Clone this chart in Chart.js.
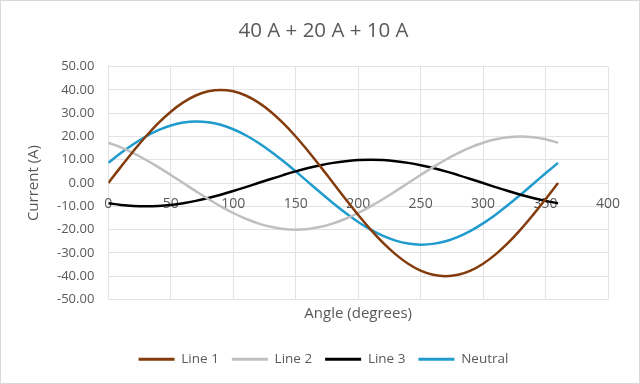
<!DOCTYPE html>
<html>
<head>
<meta charset="utf-8">
<script src="https://cdn.jsdelivr.net/npm/chart.js@4/dist/chart.umd.min.js"></script>
<style>
  html, body { margin: 0; padding: 0; background: #ffffff; }
  #c { display: block; }
</style>
</head>
<body>
<canvas id="c" width="640" height="384"></canvas>
<script>
// ---- Data ----
const chartTitle = "40 A + 20 A + 10 A";
const xAxisTitle = "Angle (degrees)";
const yAxisTitle = "Current (A)";
const seriesNames = ["Line 1", "Line 2", "Line 3", "Neutral"];

const angles = [0,10,20,30,40,50,60,70,80,90,100,110,120,130,140,150,160,170,180,
                190,200,210,220,230,240,250,260,270,280,290,300,310,320,330,340,350,360];

const line1 = [0.00,6.95,13.68,20.00,25.71,30.64,34.64,37.59,39.39,40.00,39.39,37.59,34.64,30.64,25.71,20.00,13.68,6.95,0.00,
               -6.95,-13.68,-20.00,-25.71,-30.64,-34.64,-37.59,-39.39,-40.00,-39.39,-37.59,-34.64,-30.64,-25.71,-20.00,-13.68,-6.95,0.00];

const line2 = [17.32,15.32,12.86,10.00,6.84,3.47,0.00,-3.47,-6.84,-10.00,-12.86,-15.32,-17.32,-18.79,-19.70,-20.00,-19.70,-18.79,-17.32,
               -15.32,-12.86,-10.00,-6.84,-3.47,0.00,3.47,6.84,10.00,12.86,15.32,17.32,18.79,19.70,20.00,19.70,18.79,17.32];

const line3 = [-8.66,-9.40,-9.85,-10.00,-9.85,-9.40,-8.66,-7.66,-6.43,-5.00,-3.42,-1.74,0.00,1.74,3.42,5.00,6.43,7.66,8.66,
               9.40,9.85,10.00,9.85,9.40,8.66,7.66,6.43,5.00,3.42,1.74,0.00,-1.74,-3.42,-5.00,-6.43,-7.66,-8.66];

const neutral = [8.66,12.87,16.69,20.00,22.70,24.71,25.98,26.46,26.12,25.00,23.11,20.53,17.32,13.59,9.43,5.00,0.41,-4.18,-8.66,
                 -12.87,-16.69,-20.00,-22.70,-24.71,-25.98,-26.46,-26.12,-25.00,-23.11,-20.53,-17.32,-13.59,-9.43,-5.00,-0.41,4.18,8.66];

const xTicks = [0, 50, 100, 150, 200, 250, 300, 350, 400];
const yTicks = [-50, -40, -30, -20, -10, 0, 10, 20, 30, 40, 50];

// ---- Styles ----
const colors = ["#843C0C", "#BFBFBF", "#000000", "#1F9BCE"];
const textColor = "#595959";
const gridColor = "#E3E3E3";
const FONT = "'Open Sans', 'Liberation Sans', sans-serif";

const allSeries = [line1, line2, line3, neutral];
const datasets = allSeries.map((vals, i) => ({
  label: seriesNames[i],
  data: angles.map((a, k) => ({ x: a, y: vals[k] })),
  borderColor: colors[i],
  backgroundColor: colors[i],
  borderWidth: 2.5,
  pointRadius: 0,
  pointHoverRadius: 0,
  tension: 0.4,
  fill: false
}));

const framePlugin = {
  id: 'frame',
  beforeDraw(chart) {
    const ctx = chart.ctx;
    ctx.save();
    ctx.fillStyle = '#ffffff';
    ctx.fillRect(0, 0, chart.width, chart.height);
    ctx.restore();
  },
  afterDraw(chart) {
    const ctx = chart.ctx;
    ctx.save();
    ctx.strokeStyle = '#D9D9D9';
    ctx.lineWidth = 1;
    ctx.strokeRect(0.5, 0.5, chart.width - 1, chart.height - 1);
    ctx.restore();
  }
};

new Chart(document.getElementById('c'), {
  type: 'line',
  data: { datasets },
  plugins: [framePlugin],
  options: {
    responsive: false,
    animation: false,
    devicePixelRatio: 1,
    layout: { padding: { left: 15, right: 8, top: 0, bottom: 8 } },
    plugins: {
      title: {
        display: true,
        text: chartTitle,
        color: textColor,
        font: { family: FONT, size: 20.5, weight: 'normal' },
        padding: { top: 19, bottom: 23 }
      },
      legend: {
        position: 'bottom',
        labels: {
          color: textColor,
          font: { family: FONT, size: 13.5 },
          boxWidth: 36,
          boxHeight: 3,
          padding: 13,
          generateLabels(chart) {
            return chart.data.datasets.map((d, i) => ({
              text: d.label,
              fillStyle: d.borderColor,
              strokeStyle: d.borderColor,
              lineWidth: 0,
              fontColor: textColor,
              hidden: false,
              datasetIndex: i
            }));
          }
        }
      },
      tooltip: { enabled: false }
    },
    scales: {
      x: {
        type: 'linear',
        min: xTicks[0],
        max: xTicks[xTicks.length - 1],
        position: { y: 0 },
        afterBuildTicks(scale) { scale.ticks = xTicks.map(v => ({ value: v })); },
        ticks: {
          color: textColor,
          font: { family: FONT, size: 14 },
          padding: 13,
          maxRotation: 0,
          autoSkip: false
        },
        grid: { color: gridColor, drawTicks: false, lineWidth: 1 },
        border: { display: false }
      },
      xt: {
        type: 'linear',
        axis: 'x',
        position: 'bottom',
        min: 0,
        max: 400,
        ticks: { display: false },
        grid: { display: false, drawTicks: false },
        border: { display: false },
        title: {
          display: true,
          text: xAxisTitle,
          color: textColor,
          font: { family: FONT, size: 15 },
          padding: { top: 5, bottom: 17 }
        }
      },
      yr: {
        type: 'linear',
        axis: 'y',
        position: 'right',
        min: -50,
        max: 50,
        ticks: { display: false },
        grid: { display: false, drawTicks: false },
        border: { display: false },
        afterFit(scale) { scale.width = 24; }
      },
      y: {
        type: 'linear',
        min: yTicks[0],
        max: yTicks[yTicks.length - 1],
        afterBuildTicks(scale) { scale.ticks = yTicks.map(v => ({ value: v })); },
        ticks: {
          color: textColor,
          font: { family: FONT, size: 13 },
          padding: 14,
          callback: (v) => Number(v).toFixed(2)
        },
        grid: { color: gridColor, drawTicks: false, lineWidth: 1 },
        border: { display: false },
        title: {
          display: true,
          text: yAxisTitle,
          color: textColor,
          font: { family: FONT, size: 15 },
          padding: { top: 10, bottom: 0 }
        }
      }
    }
  }
});
</script>
</body>
</html>
